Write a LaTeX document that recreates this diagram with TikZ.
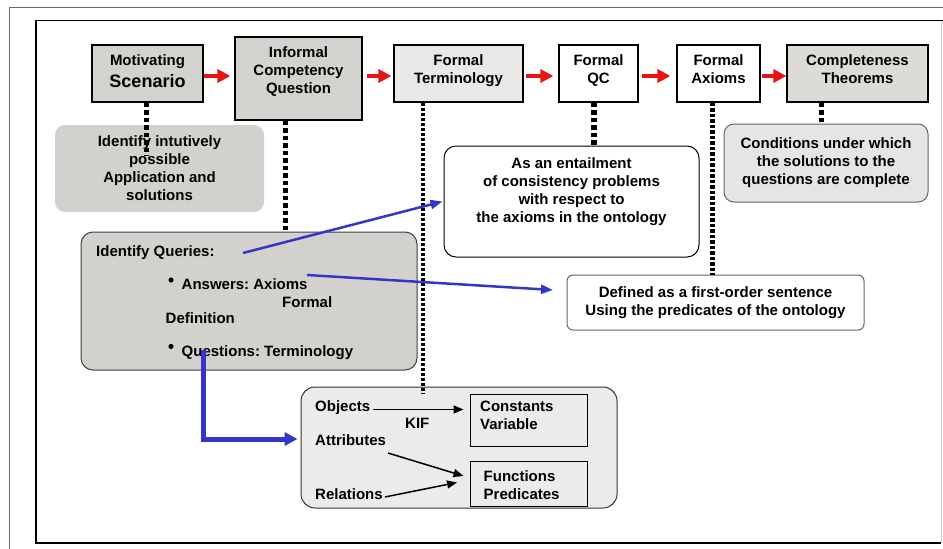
\documentclass[tikz,border=0pt]{standalone}
\usepackage{fontspec}
\setmainfont{Liberation Sans}
\usetikzlibrary{arrows.meta,calc}
\frenchspacing
\definecolor{stagegray}{HTML}{D4D2CF}
\definecolor{stagelight}{HTML}{E9E8E6}
\definecolor{stagemid}{HTML}{DDDBD8}
\definecolor{notegray}{HTML}{D3D1CE}
\definecolor{notelight}{HTML}{E6E5E3}
\definecolor{kifgray}{HTML}{ECEBE9}
\definecolor{flowred}{HTML}{E81414}
\definecolor{linkblue}{HTML}{3535C8}
\definecolor{framegray}{HTML}{666666}
\begin{document}
\begin{tikzpicture}[x=1pt,y=-1pt,
  txt/.style={font=\fontsize{15}{18}\selectfont\bfseries, inner sep=0pt, align=center},
  ltxt/.style={font=\fontsize{15}{18}\selectfont\bfseries, inner sep=0pt},
  stage/.style={draw=black, line width=1.2pt, rectangle, inner sep=0pt},
  note/.style={rectangle, rounded corners=10pt, inner sep=0pt, line width=1pt, align=center,
    font=\fontsize{15}{18}\selectfont\bfseries},
  flow/.style={draw=flowred, line width=4.5pt, -{Triangle[length=13pt,width=13pt]}},
  dotsA/.style={line width=5pt, dash pattern=on 4.5pt off 3pt},
  dotsB/.style={line width=4pt, dash pattern=on 3pt off 2pt},
  link/.style={draw=linkblue, line width=2.5pt, -{Triangle[length=12pt,width=9pt]}},
  blk/.style={draw=black, line width=1.5pt, -{Triangle[length=10pt,width=8pt]}}
]
\useasboundingbox (0,0) rectangle (943,549);
\fill[white] (0,0) rectangle (943,549);

% frames
\draw[framegray, line width=1pt] (9,549) -- (9,7) -- (943,7);
\draw[black, line width=1.4pt] (941,543) -- (36,543) -- (36,20.5) -- (943,20.5);
\draw[gray!40, line width=0.8pt] (941,20.5) -- (941,543);

% stages of the methodology
\node[stage, fill=stagegray, minimum width=111pt, minimum height=57pt] (ms) at (147.5,73.5) {};
\node[txt, anchor=north] (mst) at (147.5,54) {Motivating\\[4pt]{\fontsize{18}{22}\selectfont Scenario}};
\node[stage, fill=stagegray, minimum width=127pt, minimum height=83pt] (icq) at (298.5,78.5) {};
\node[txt, anchor=north] (icqt) at (298.5,46.5) {Informal\\Competency\\Question};
\node[stage, fill=stagelight, minimum width=129pt, minimum height=57pt] (ft) at (458.5,73.5) {};
\node[txt, anchor=north] (ftt) at (458.5,54) {Formal\\Terminology};
\node[stage, fill=white, minimum width=79pt, minimum height=57pt] (fqc) at (598.5,73.5) {};
\node[txt, anchor=north] (fqct) at (598.5,54) {Formal\\QC};
\node[stage, fill=white, minimum width=83pt, minimum height=57pt] (fax) at (718.5,73.5) {};
\node[txt, anchor=north] (faxt) at (718.5,54) {Formal\\Axioms};
\node[stage, fill=stagemid, minimum width=141pt, minimum height=57pt] (ct) at (857.5,73.5) {};
\node[txt, anchor=north] (ctt) at (857.5,54) {Completeness\\Theorems};

% flow between stages
\draw[flow] ($(ms.east)+(0,2.5)$) -- ($(icq.west |- ms.east)+(-4,2.5)$);
\draw[flow] ($(icq.east |- ms.east)+(4,2.5)$) -- ($(ft.west)+(-2,2.5)$);
\draw[flow] ($(ft.east)+(2,2.5)$) -- ($(fqc.west)+(-5,2.5)$);
\draw[flow] ($(fqc.east)+(3,2.5)$) -- ($(fax.west)+(-6,2.5)$);
\draw[flow] ($(fax.east)+(1,2.5)$) -- ($(ct.west)+(0,2.5)$);

% notes
\node[note, fill=notegray, minimum width=209pt, minimum height=87pt] (ii) at (159.5,168.5)
  {Identify intutively\\possible\\Application and\\solutions};
\node[note, draw=black!75, fill=notegray, rounded corners=12pt, minimum width=336pt, minimum height=138pt] (iq) at (249,301) {};
\node[note, draw=black, fill=white, rounded corners=12pt, minimum width=255pt, minimum height=111pt] (ent) at (571.5,201.5) {};
\node[txt, anchor=north] (entt) at (571.5,157) {As an entailment\\of consistency problems\\with respect to\\the axioms in the ontology};
\node[note, draw=black!60, fill=white, rounded corners=6pt, minimum width=297pt, minimum height=55pt] (def) at (715.5,302.5)
  {Defined as a first-order sentence\\Using the predicates of the ontology};
\node[note, draw=black!60, fill=notelight, minimum width=204pt, minimum height=78pt] (cond) at (826,163)
  {Conditions under which\\the solutions to the\\questions are complete};

% query text
\node[ltxt, anchor=base west] (iqa) at (96,256) {Identify Queries:};
\node[ltxt, anchor=base west] (iqb) at (181.5,289) {Answers: Axioms};
\node[ltxt, anchor=base west] (iqc) at (282,307) {Formal};
\node[ltxt, anchor=base west] (iqd) at (165.5,323.5) {Definition};
\node[ltxt, anchor=base west] (iqe) at (181.5,356) {Questions: Terminology};
\fill (171,280) circle (2.6pt);
\fill (171,346.5) circle (2.6pt);

% KIF box
\node[note, draw=black!80, fill=kifgray, rounded corners=14pt, minimum width=316pt, minimum height=121pt] (obj) at (459,447.5) {};
\node[stage, line width=1pt, fill=kifgray, minimum width=117pt, minimum height=52pt] (cv) at (528.5,420) {};
\node[ltxt, anchor=north west, align=left] (cvt) at (480,400.5) {Constants\\Variable};
\node[stage, line width=1pt, fill=kifgray, minimum width=117pt, minimum height=45pt] (fp) at (528.5,483.5) {};
\node[ltxt, anchor=north west, align=left] (fpt) at (483.5,470.5) {Functions\\Predicates};
\node[ltxt, anchor=base west] (objl) at (315,411.5) {Objects};
\node[ltxt, anchor=base west] (kif) at (405,428) {KIF};
\node[ltxt, anchor=base west] (attl) at (315,445.5) {Attributes};
\node[ltxt, anchor=base west] (rell) at (315,499) {Relations};
\coordinate (ta) at (463.5,409.5);
\coordinate (tb) at (463.5,476);
\coordinate (tc) at (457,482.5);
\draw[blk] ($(objl.base east)+(3,-2)$) -- (ta);
\draw[blk] (388,453) -- (tb);
\draw[blk] ($(rell.base east)+(2,-2)$) -- (tc);

% dotted links from stages
\coordinate (d1) at (146,156);
\coordinate (d2) at (285,232);
\coordinate (d3) at (423,393);
\coordinate (d4) at (594,146);
\coordinate (d5) at (712,275);
\coordinate (d6) at (821,124);
\draw[dotsA] (d1 |- ms.south) -- (d1);
\draw[dotsA] (d2 |- icq.south) -- (d2);
\draw[dotsB] (d3 |- ft.south) -- (d3);
\draw[dotsA, line width=6pt] (d4 |- fqc.south) -- (d4);
\draw[dotsB, line width=5pt, dash pattern=on 3.5pt off 2pt] (d5 |- fax.south) -- (d5);
\draw[dotsA] (d6 |- ct.south) -- (d6);

% blue links
\coordinate (q1) at (243,253);
\coordinate (q2) at (307,275);
\coordinate (q2e) at (553,290);
\coordinate (q3) at (203,350);
\draw[link] (q1) -- ($(ent.west)+(-1,0)$);
\draw[link] (q2) -- (q2e);
\draw[draw=linkblue, line width=5pt, -{Triangle[length=13pt,width=13pt]}] (q3) |- ($(obj.west)+(-3,-8.5)$);
\end{tikzpicture}
\end{document}
